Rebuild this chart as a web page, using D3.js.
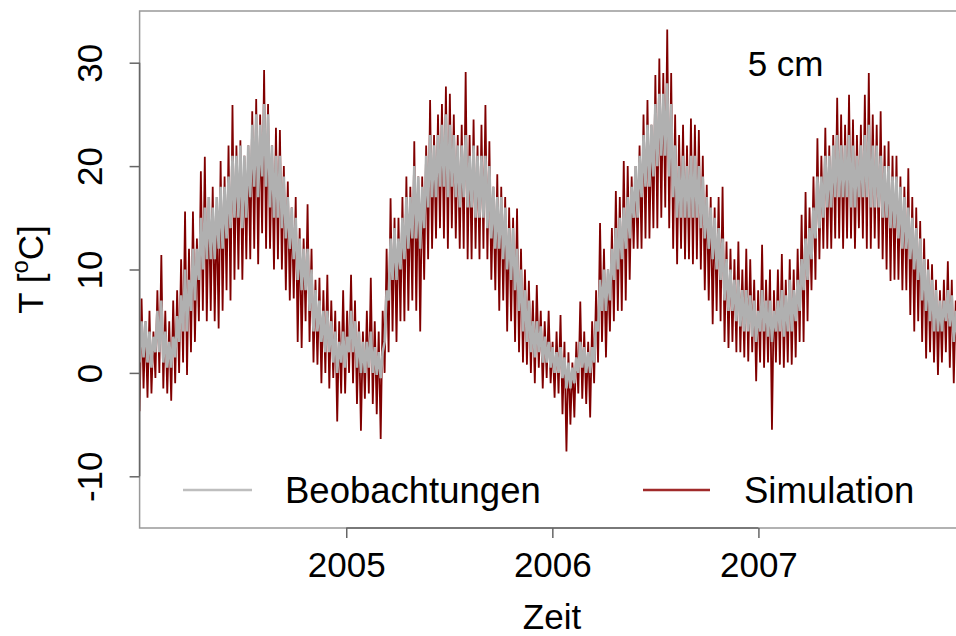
<!DOCTYPE html>
<html>
<head>
<meta charset="utf-8">
<script src="https://cdn.jsdelivr.net/npm/d3@7"></script>
<style>
  html, body { margin: 0; padding: 0; background: #fff; }
  svg { display: block; }
  text { font-family: "Liberation Sans", Arial, Helvetica, sans-serif; fill: #000; }
</style>
</head>
<body>
<svg id="chart" width="956" height="636"></svg>
<script>
// Soil temperature at 5 cm depth, 2004-2007: weekly low/high of the hourly series.
const seriesStart = "2004-01-01";   // first week starts here, one entry per 7 days
const depthLabel = "5 cm";
const seriesNames = ["Beobachtungen", "Simulation"];
const yTicks = [-10, 0, 10, 20, 30];
const xTickYears = [2005, 2006, 2007];

// Simulation: weekly minimum / maximum (°C)
const simLow = [
  -3.7,-1.5,-2.4,-2,-0.5,0,-1.5,-2,-2.7,-1,0,1,-0.2,2,3,5,6,5,6,5,4.3,6,8,7,9,10,9,11,11,12,10.5,13.5,12,12,10,11,10,8,7,7.2,3,2.4,5,3,1,0.8,-1,0,-1.5,-0.5,-4.7,-2,
  -2,0,-1,-3,-5.6,-2.5,-2,-3,-4,-6.4,0,2,4,3,5,5,6,7,6,4,9,11,12,13,14,13,12,14,13,12,12,11,11,12,11,12,11,9,8,6,7,4,5,3,2,1,0.8,0,-1,0.5,-1.5,-0.5,
  -1,-2.4,-2,-4,-7.6,-5,-4.3,-2,-2.5,-3,-4.3,-1,1,3,1.5,4,5,6,6,7,9,12,12,12,13,13,14,14,15,16,14,12,10.5,12,11,11,10.5,11,10,8,7,4.7,6,5,3,2.4,3,2,2,1.5,1.1,2,-0.8,
  1,0.5,1,-5.5,1,0.8,0.5,1,0.8,1.5,3,3,5,8,9,11,12,12,12,13,13,12,13,13,12,14,13,12,12,13,12,11,10,8.9,9,9,8,8,5.6,4,5,3,1.4,2,1,-0.2,1,2,0.5,-1,-0.5,-1
];
const simHigh = [
  7.2,5,6,4,8,11.4,6,5,7,8,11,15.6,12,15.6,13,19.5,20.9,17,18,16,20.5,19,22,25.9,22,22.5,21,22,25.3,26.5,25,29.3,26,22,23.7,23.5,20,18.5,16,17,14,13,16.3,12,9,9.2,8,9.5,7,6,5,8,
  6,9.5,7,5,4,6,9.2,5,4,6,12,16.9,15,15,17,19,18,22.4,19,19,22,26.4,23,25,26,27.7,27,25,23,24,29.1,23,24.5,22,24,25.9,22.4,18,19.2,18,17,16,15,15.9,12,10,8.9,7,8.5,6,5,6,
  3,4,5.6,3,2,1,3,6.9,4,3,5,8,14.5,12,10,14,17.6,17,20.5,20,19,20,22,25,26.4,24,28.8,30.4,29,33.2,29,25,23,24,22,24.6,24,23.5,21,18.2,17,16,17,18,12.7,12,11,12.7,10,12,11,9,8,
  12.4,9,10,8,10,11.5,9,11,10,12,15.3,17.5,16,19,22.7,21,23.7,22,23,26.6,25,24,26.9,24.5,23,24,26.9,29,25,24,25.3,22,22.4,21,21,19,18,19.8,17,16,14.7,13,11,10.5,9,8,9,10.8,9,7,6,5
];
// Beobachtungen: weekly minimum / maximum (°C)
const obsLow = [
  1,1.5,1,0.5,2,2,1,0.5,0.5,1.5,3,4,4,6,7,9,10,11,11,11,12,12,13,14,15,15,14,15,17,18,17,19,18,16,15,15,14,13,12,11,9,8,8,6,4,4,3,2,2,1,0,1,
  0.5,2,2,0.5,0,0,0.5,0,-0.2,-0.5,3,7,9,9,10,11,12,13,13,12,14,16,17,17,18,18,17,18,17,16,17,16,16,15,15,15,14,13,12,12,11,10,9,8,6,4,3,2,1.5,2,1,1,
  0.5,0,0,-0.5,-1.5,-1.5,-1,0,0.5,0,0,1,4,6,6,7,9,10,11,12,13,15,15,17,18,18,19,20,21,21,19,17,15,15,15,15,15,15,14,13,12,11,10,9,7,6,6,5,4.5,4,4,3.5,3,
  4,4,3.5,3,4,4,3.5,4,4,5,6,8,9,11,13,14,15,16,16,17,17,17,17,16,16,17,17,17,16,16,16,15,15,14,14,13,12,12,11,10,9,7,6,5,4,4,4,5,4.5,3,3,2
];
const obsHigh = [
  5,5,4,3.5,6,7,4,3,3.5,5.5,7.5,10,9,12,12,15,16,17,16,17,18,18,19,21,21,22,21,22,24,25,24,26,25,22,21,21,19,17,16,15,13,12,12,10,8,7,6,6,5,4,3,4,
  3.5,6,5,4,3,3,4,2.5,2,2,8,13,14,13,15,17,17,20,19,18,21,23,22,23,24,25,24,23,22,22,23,21,22,21,21,21,20,18,17,17,16,14,14,12,10,8,7,5,5,4.5,3.5,3,
  2.5,2,2.5,1.5,1,0.5,1.5,3,2.5,2,2.5,5,9,10,10,12,14,15,16,17,18,20,21,23,24,24,26,27,27,28,26,22,20,21,20,21,21,20,19,17,16,15,14,13,11,10,9,9,8,8,7.5,7,6,
  8,7,7,6,7,8,7.5,9,8,9,11,13,14,16,19,19,21,21,22,23,22,22,23,22,21,22,23,24,22,22,21,20,20,19,19,18,17,16,15,14,13,11,10,9,8,7,7,8,7.5,6,5,5
];

const svg = d3.select("#chart");
const plotLeft = 139.6, plotRight = 964.5, plotTop = 11, plotBottom = 528;

const t0 = new Date(seriesStart + "T00:00:00Z");
const x = d3.scaleUtc()
  .domain([t0, new Date("2008-01-01T00:00:00Z")])
  .range([plotLeft, plotRight]);
const y = d3.scaleLinear().domain([-15, 35]).range([plotBottom, plotTop]);

svg.append("defs").append("clipPath").attr("id", "plotClip")
  .append("rect").attr("x", plotLeft).attr("y", plotTop)
  .attr("width", plotRight - plotLeft).attr("height", plotBottom - plotTop);

// zig-zag through each week's low and high so the band reads like the dense hourly trace
function weeklyTrace(lo, hi) {
  const pts = [];
  lo.forEach((v, i) => {
    const d = d3.utcDay.offset(t0, 7 * i);
    pts.push([d, v]);
    pts.push([d3.utcHour.offset(d, 84), hi[i]]);
  });
  return pts;
}
const line = d3.line().x(d => x(d[0])).y(d => y(d[1]));

const plot = svg.append("g").attr("clip-path", "url(#plotClip)");
plot.append("path")
  .attr("d", line(weeklyTrace(simLow, simHigh)))
  .attr("fill", "none").attr("stroke", "#800000").attr("stroke-width", 1.8)
  .attr("stroke-linejoin", "miter").attr("stroke-miterlimit", 2);
plot.append("path")
  .attr("d", line(weeklyTrace(obsLow, obsHigh)))
  .attr("fill", "none").attr("stroke", "#b0b0b0").attr("stroke-width", 2.6)
  .attr("stroke-linejoin", "miter").attr("stroke-miterlimit", 2);

// frame
svg.append("rect").attr("x", plotLeft).attr("y", plotTop)
  .attr("width", plotRight - plotLeft).attr("height", plotBottom - plotTop)
  .attr("fill", "none").attr("stroke", "#999").attr("stroke-width", 1.5);

const FS = 35;

// y axis
const yAxis = svg.append("g").attr("transform", `translate(${plotLeft},0)`)
  .call(d3.axisLeft(y).tickValues(yTicks).tickSize(10).tickFormat(d => String(d)));
yAxis.select(".domain").remove();
yAxis.selectAll(".tick line").attr("stroke", "#666").attr("stroke-width", 1.5);
yAxis.selectAll(".tick text")
  .attr("x", null).attr("dy", null)
  .attr("text-anchor", "middle")
  .attr("font-size", FS)
  .attr("transform", "translate(-38,0) rotate(-90)");
yAxis.append("line")
  .attr("x1", 0).attr("x2", 0)
  .attr("y1", y(yTicks[0])).attr("y2", y(yTicks[yTicks.length - 1]))
  .attr("stroke", "#666").attr("stroke-width", 1.5);

// x axis
const yearDates = xTickYears.map(v => new Date(Date.UTC(v, 0, 1)));
const xAxis = svg.append("g").attr("transform", `translate(0,${plotBottom})`)
  .call(d3.axisBottom(x).tickValues(yearDates).tickSize(10).tickFormat(d3.utcFormat("%Y")));
xAxis.select(".domain").remove();
xAxis.selectAll(".tick line").attr("stroke", "#666").attr("stroke-width", 1.5);
xAxis.selectAll(".tick text")
  .attr("y", 49).attr("dy", null)
  .attr("font-size", FS);
xAxis.append("line")
  .attr("x1", x(yearDates[0])).attr("x2", x(yearDates[yearDates.length - 1]))
  .attr("y1", 0).attr("y2", 0)
  .attr("stroke", "#666").attr("stroke-width", 1.5);

// axis titles
svg.append("text")
  .attr("x", (plotLeft + plotRight) / 2).attr("y", 629)
  .attr("text-anchor", "middle").attr("font-size", FS)
  .text("Zeit");

const yTitle = svg.append("text")
  .attr("transform", `translate(43,${(plotTop + plotBottom) / 2}) rotate(-90)`)
  .attr("text-anchor", "middle").attr("font-size", FS);
yTitle.append("tspan").text("T [");
yTitle.append("tspan").attr("font-size", 24).attr("dy", -15).text("o");
yTitle.append("tspan").attr("dy", 15).text("C]");

// depth label
svg.append("text")
  .attr("x", 785.6).attr("y", 76)
  .attr("text-anchor", "middle").attr("font-size", FS)
  .text(depthLabel);

// legend
const legend = svg.append("g");
const legendItems = [
  { name: seriesNames[0], color: "#bebebe", x1: 183, x2: 252, tx: 285 },
  { name: seriesNames[1], color: "#a02a2a", x1: 643, x2: 710, tx: 744 }
];
legendItems.forEach(it => {
  legend.append("line")
    .attr("x1", it.x1).attr("x2", it.x2).attr("y1", 490).attr("y2", 490)
    .attr("stroke", it.color).attr("stroke-width", 2.5);
  legend.append("text")
    .attr("x", it.tx).attr("y", 503)
    .attr("font-size", 36.5).text(it.name);
});
</script>
</body>
</html>
